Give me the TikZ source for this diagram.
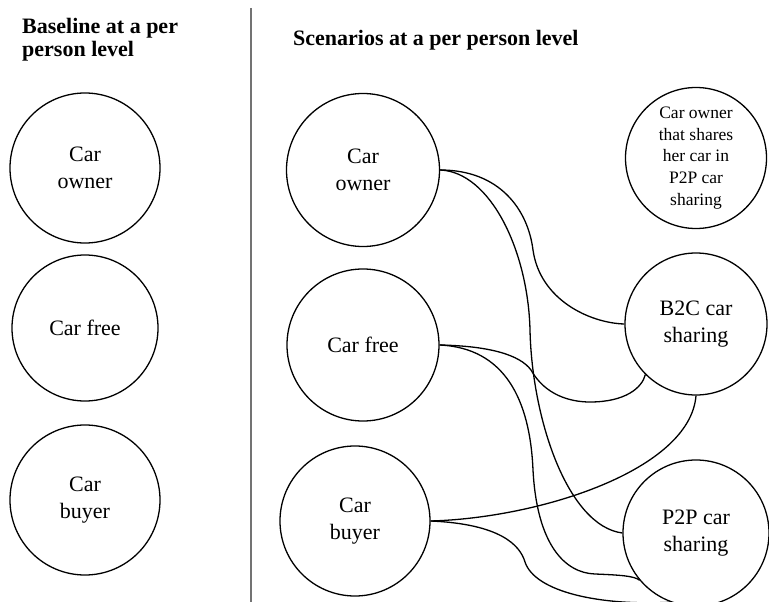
\documentclass[tikz,border=0pt]{standalone}
\usepackage{fontspec}
\setmainfont{Liberation Serif}
\begin{document}
\begin{tikzpicture}[x=1pt,y=-1pt,
  bubble/.style={circle,draw,line width=1.3pt,align=center,inner sep=0pt,
     font=\fontsize{22}{27}\selectfont},
  smallbubble/.style={circle,draw,line width=1.3pt,align=center,inner sep=0pt,
     font=\fontsize{17.5}{21.7}\selectfont},
  title/.style={anchor=base west,align=left,inner sep=0pt,
     font=\fontsize{22}{23.5}\selectfont\bfseries},
  link/.style={line width=1.3pt},
  divider/.style={line width=1.6pt,draw=black!55}]
\useasboundingbox (0,0) rectangle (769,602);
\clip (0,0) rectangle (769,602);

% titles
\node[title] (t1) at (22,56.5) {Baseline at a per\\person level};
\node[title] (t2) at (293,46) {Scenarios at a per person level};

% divider
\coordinate (d1) at (251,8);
\coordinate (d2) at (251,602);
\draw[divider] (d1) -- (d2);

% baseline circles
\node[bubble,minimum size=150pt] (lo) at (85,168) {Car\\owner};
\node[bubble,minimum size=146pt] (lf) at (85,328) {Car free};
\node[bubble,minimum size=150pt] (lb) at (85,500) {Car\\buyer};

% scenario circles
\node[bubble,minimum size=153pt] (mo) at (363,170) {Car\\owner};
\node[bubble,minimum size=152pt] (mf) at (363,345) {Car free};
\node[bubble,minimum size=150pt] (mb) at (355,521) {Car\\buyer};

\node[smallbubble,minimum size=141pt] (p2po) at (696,158) {Car owner\\that shares\\her car in\\P2P car\\sharing};
\node[bubble,minimum size=142pt] (b2c) at (696,324) {B2C car\\sharing};
\node[bubble,minimum size=146pt] (p2p) at (696,533) {P2P car\\sharing};

% connectors
\draw[link] (mo.east) .. controls (500,170) and (528,210) .. (533,250)
   .. controls (540,300) and (590,323) .. (b2c.west);
\draw[link] (mo.east) .. controls (490,172) and (528,250) .. (530,330)
   .. controls (532,420) and (568,526) .. (p2p.west);
\draw[link] (mb.east) .. controls (540,518) and (690,470) .. (b2c.south);
\draw[link] (mb.east) .. controls (500,524) and (520,545) .. (525,562)
   .. controls (535,592) and (600,606) .. (p2p.-110);
\draw[link] (mf.east) .. controls (505,348) and (530,400) .. (533,470)
   .. controls (537,545) and (565,573) .. (595,574)
   .. controls (620,575) and (635,576) .. (p2p.-140);
\draw[link] (mf.east) .. controls (490,346) and (520,355) .. (531,370)
   .. controls (545,395) and (570,402) .. (590,402)
   .. controls (625,402) and (642,388) .. (b2c.-135);
\end{tikzpicture}
\end{document}
